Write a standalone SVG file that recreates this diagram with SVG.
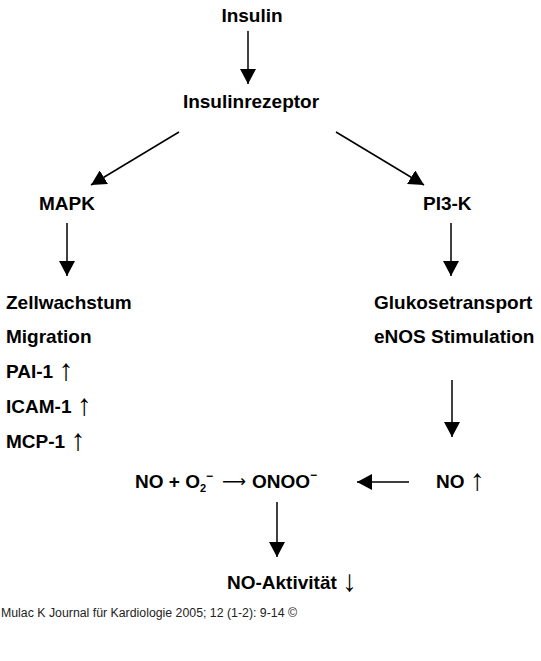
<svg xmlns="http://www.w3.org/2000/svg" width="541" height="661" viewBox="0 0 541 661">
<style>
.t{font-family:"Liberation Sans",Arial,sans-serif;font-weight:bold;font-size:19px;fill:#000}
.a{font-family:"Liberation Sans",Arial,sans-serif;font-weight:normal;font-size:30px;fill:#000}
.c{stroke:#000;stroke-width:1.5;fill:none;marker-end:url(#ah)}
.f{font-family:"Liberation Sans",Arial,sans-serif;font-size:12px;fill:#222}
.m{font-size:12px}
</style>
<defs>
<marker id="ah" markerUnits="userSpaceOnUse" markerWidth="16" markerHeight="16" refX="15" refY="8" orient="auto">
<path d="M0,0 L15,8 L0,16 z" fill="#000"/>
</marker>
</defs>
<rect width="541" height="661" fill="#fff"/>
<g id="connectors">
<line class="c" x1="248" y1="31" x2="248" y2="84"/>
<line class="c" x1="179" y1="132" x2="91" y2="185"/>
<line class="c" x1="336" y1="132" x2="424" y2="185"/>
<line class="c" x1="67" y1="223" x2="67" y2="276"/>
<line class="c" x1="451" y1="223" x2="451" y2="276"/>
<line class="c" x1="452" y1="380" x2="452" y2="437"/>
<line class="c" x1="409" y1="482" x2="357" y2="482"/>
<line class="c" x1="277" y1="502" x2="277" y2="557"/>
</g>
<g id="insulin"><text class="t" x="252" y="22" text-anchor="middle">Insulin</text></g>
<g id="insulinrezeptor"><text class="t" x="251" y="108" text-anchor="middle">Insulinrezeptor</text></g>
<g id="mapk"><text class="t" x="39" y="210">MAPK</text></g>
<g id="pi3k"><text class="t" x="423" y="210">PI3-K</text></g>
<g id="mapk-effects">
<text class="t" x="6" y="309">Zellwachstum</text>
<text class="t" x="6" y="343">Migration</text>
<text class="t" x="6" y="378">PAI-1 <tspan class="a" dy="2">↑</tspan></text>
<text class="t" x="6" y="413">ICAM-1 <tspan class="a" dy="2">↑</tspan></text>
<text class="t" x="6" y="448">MCP-1 <tspan class="a" dy="2">↑</tspan></text>
</g>
<g id="pi3k-effects">
<text class="t" x="374" y="309">Glukosetransport</text>
<text class="t" x="374" y="343">eNOS Stimulation</text>
</g>
<g id="no-up"><text class="t" x="436" y="488">NO <tspan class="a" dy="2">↑</tspan></text></g>
<g id="reaction">
<text class="t" x="135" y="488">NO + O<tspan font-size="11" y="492">2</tspan><tspan class="m" y="480">−</tspan></text>
<text x="222" y="487" font-family="'DejaVu Sans',sans-serif" font-size="17" textLength="24" lengthAdjust="spacingAndGlyphs">⟶</text>
<text class="t" x="252" y="488">ONOO<tspan class="m" y="479">−</tspan></text>
</g>
<g id="no-aktivitaet"><text class="t" x="227" y="589">NO-Aktivität <tspan class="a" dy="2">↓</tspan></text></g>
<g id="footer"><text class="f" x="1" y="617" textLength="296" lengthAdjust="spacingAndGlyphs">Mulac K Journal für Kardiologie 2005; 12 (1-2): 9-14 ©</text></g>
</svg>
